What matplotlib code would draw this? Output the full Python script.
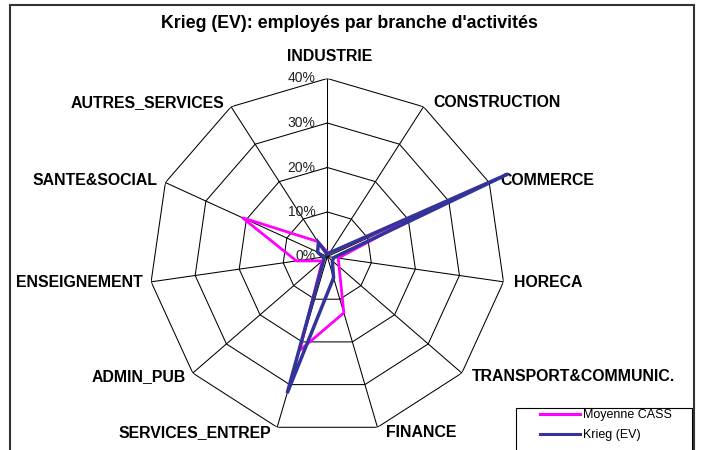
import numpy as np
import matplotlib
matplotlib.use('Agg')
import matplotlib.pyplot as plt
from matplotlib.patches import Rectangle
from matplotlib.lines import Line2D

categories = ["INDUSTRIE", "CONSTRUCTION", "COMMERCE", "HORECA",
              "TRANSPORT&COMMUNIC.", "FINANCE", "SERVICES_ENTREP",
              "ADMIN_PUB", "ENSEIGNEMENT", "SANTE&SOCIAL", "AUTRES_SERVICES"]
moyenne_cass = [1.0, 1.0, 23.0, 2.5, 3.5, 13.2, 22.0, 1.5, 7.0, 21.0, 4.0]
krieg_ev = [0.5, 1.0, 44.7, 1.5, 1.5, 5.0, 32.0, 1.0, 1.0, 2.4, 3.7]
ring_ticks = [0, 10, 20, 30, 40]
tick_labels = ["0%", "10%", "20%", "30%", "40%"]
series_names = ["Moyenne CASS", "Krieg (EV)"]
series_colors = ["#FF00FF", "#333399"]
title = "Krieg (EV): employés par branche d'activités"

plt.rcParams['font.family'] = ['Liberation Sans', 'DejaVu Sans']

W, H = 701, 450
fig = plt.figure(figsize=(W / 100, H / 100), dpi=100)

cx, cy, R = 327.3, 256.5, 178
ax = fig.add_axes([(cx - R) / W, 1 - (cy + R) / H, 2 * R / W, 2 * R / H],
                  projection='polar')
ax.set_theta_zero_location('N')
ax.set_theta_direction(-1)
ax.set_ylim(0, ring_ticks[-1])
ax.grid(False)
ax.set_xticks([])
ax.set_yticks([])
ax.spines['polar'].set_visible(False)
ax.patch.set_visible(False)

n = len(categories)
angles = np.arange(n) * 2 * np.pi / n
closed = np.append(angles, angles[0])

# polygon rings
for r in ring_ticks[1:]:
    ax.plot(closed, [r] * (n + 1), color='black', lw=0.75, zorder=1)
# spokes
for a in angles:
    ax.plot([a, a], [0, ring_ticks[-1]], color='black', lw=0.75, zorder=1)

# data
for vals, col, lw, z in [(moyenne_cass, series_colors[0], 2.0, 3),
                          (krieg_ev, series_colors[1], 2.5, 4)]:
    v = list(vals) + [vals[0]]
    ax.plot(closed, v, color=col, lw=lw, clip_on=False, zorder=z,
            solid_joinstyle='miter')

# radial labels
for r, lab in zip(ring_ticks, tick_labels):
    ax.annotate(lab, xy=(0, r), xytext=(-12, 0), textcoords='offset pixels',
                ha='right', va='center', fontsize=10, color='#222222',
                annotation_clip=False, zorder=2)

# category labels
for a, cat in zip(angles, categories):
    s, c = np.sin(a), np.cos(a)
    if abs(s) < 0.1:
        dx, dy, ha = 2, 22, 'center'
    elif s > 0:
        dx, dy, ha = 8 + 3 * s, 5 * c, 'left'
    else:
        dx, dy, ha = -(5 + 3 * abs(s)), 5 * c, 'right'
    ax.annotate(cat, xy=(a, ring_ticks[-1]), xytext=(dx, dy),
                textcoords='offset pixels', ha=ha, va='center',
                fontsize=11.4, fontweight='bold', annotation_clip=False)

# title
fig.text(349 / W, 1 - 23 / H, title, ha='center', va='center',
         fontsize=12.8, fontweight='bold')

# outer frame
fig.add_artist(Rectangle((10 / W, -0.1), (694 - 10) / W, 1 - 5 / H + 0.1,
                         transform=fig.transFigure, fill=False,
                         ec='#333333', lw=1.5))

# legend box
fig.add_artist(Rectangle((516 / W, -0.1), (692 - 516) / W, 1 - 408 / H + 0.1,
                         transform=fig.transFigure, fill=False,
                         ec='black', lw=0.8))
handles = [Line2D([], [], color=c, lw=2.2) for c in series_colors]
fig.legend(handles, series_names, loc='upper left',
           bbox_to_anchor=(540 / W, 1 - 409 / H), frameon=False,
           borderpad=0, borderaxespad=0, handlelength=3.2,
           handletextpad=0.25, labelspacing=0.65, fontsize=9)

fig.savefig('out.png', dpi=100)
